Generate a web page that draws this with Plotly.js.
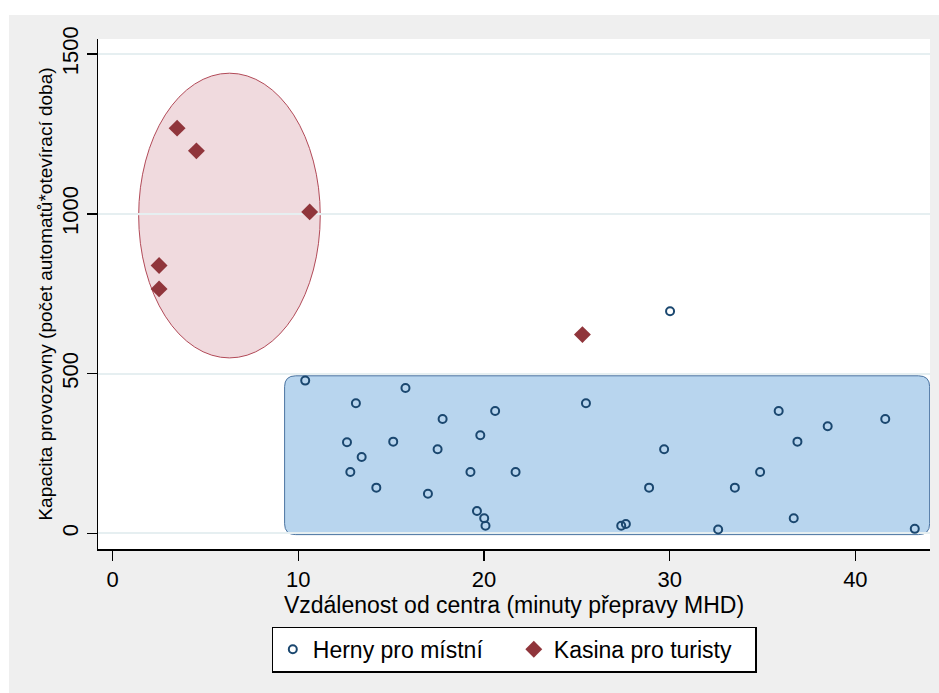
<!DOCTYPE html>
<html>
<head>
<meta charset="utf-8">
<script src="https://cdn.plot.ly/plotly-3.0.1.min.js"></script>
<style>
  html, body { margin: 0; padding: 0; background: #ffffff; }
  #chart { position: absolute; left: 9px; top: 15px; width: 930px; height: 678px; }
</style>
</head>
<body>
<div id="chart"></div>
<script>
// Herny pro místní (local gaming halls)
const hernyX = [10.37, 15.77, 13.10, 17.77, 20.60, 19.80, 12.62, 15.11, 17.50, 13.41,
                12.80, 19.27, 21.70, 14.20, 16.98, 19.62, 20.01, 20.08,
                25.49, 35.87, 41.61, 38.51, 36.88, 29.70, 34.87, 28.89, 33.51,
                36.68, 27.39, 27.64, 32.61, 43.20, 30.02];
const hernyY = [478, 455, 407, 358, 383, 307, 285, 287, 263, 239,
                192, 192, 192, 143, 124, 70, 47, 24,
                407, 383, 358, 335, 287, 263, 192, 143, 143,
                47, 24, 29, 12, 14, 695];

// Kasina pro turisty (casinos for tourists)
const kasinaX = [3.47, 4.51, 10.61, 2.50, 2.50, 25.30];
const kasinaY = [1268, 1197, 1006, 838, 765, 622];

const seriesNames = ["Herny pro místní", "Kasina pro turisty"];
const xTitle = "Vzdálenost od centra (minuty přepravy MHD)";
const yTitle = "Kapacita provozovny (počet automatů*otevírací doba)";
const xTicks = [0, 10, 20, 30, 40];
const yTicks = [0, 500, 1000, 1500];

// highlight regions (in data units)
const touristZone = { x0: 1.40, x1: 11.18, y0: 549, y1: 1440 };
const localZone = { x0: 9.26, x1: 44.0, y0: -4, y1: 493, rx: 0.6, ry: 34 };

const font = "Arial, 'Liberation Sans', sans-serif";

function roundedRectPath(z) {
  const { x0, x1, y0, y1, rx, ry } = z;
  return `M ${x0 + rx},${y0} L ${x1 - rx},${y0} Q ${x1},${y0} ${x1},${y0 + ry} ` +
         `L ${x1},${y1 - ry} Q ${x1},${y1} ${x1 - rx},${y1} ` +
         `L ${x0 + rx},${y1} Q ${x0},${y1} ${x0},${y1 - ry} ` +
         `L ${x0},${y0 + ry} Q ${x0},${y0} ${x0 + rx},${y0} Z`;
}

const traces = [
  {
    type: "scatter", mode: "markers", name: seriesNames[0],
    x: hernyX, y: hernyY,
    marker: { symbol: "circle-open", size: 8, color: "#1a476f", line: { width: 2, color: "#1a476f" } },
    cliponaxis: false
  },
  {
    type: "scatter", mode: "markers", name: seriesNames[1],
    x: kasinaX, y: kasinaY,
    marker: { symbol: "diamond", size: 13, color: "#90353b", line: { width: 0 } },
    cliponaxis: false
  }
];

const layout = {
  width: 930, height: 678,
  paper_bgcolor: "#efefef",
  plot_bgcolor: "#ffffff",
  margin: { l: 89, r: 9, t: 24, b: 144 },
  font: { family: font, color: "#000000" },
  showlegend: true,
  legend: {
    orientation: "h", x: 0.5, xanchor: "center", y: -0.152, yanchor: "top",
    bgcolor: "#ffffff", bordercolor: "#000000", borderwidth: 1.3,
    font: { size: 23, family: font, color: "#000000" },
    traceorder: "normal",
    entrywidth: 196, entrywidthmode: "pixels"
  },
  xaxis: {
    range: [-0.79, 44.02],
    tickvals: xTicks, ticktext: xTicks.map(String),
    ticks: "outside", ticklen: 10, tickwidth: 1.5, tickcolor: "#000000",
    showline: true, linecolor: "#000000", linewidth: 1.5,
    showgrid: false, zeroline: false,
    tickfont: { size: 22, family: font },
    title: { text: xTitle, font: { size: 23, family: font }, standoff: 3 }
  },
  yaxis: {
    range: [-49, 1547],
    tickvals: yTicks, ticktext: yTicks.map(String),
    tickangle: -90,
    ticks: "outside", ticklen: 10, tickwidth: 1.5, tickcolor: "#000000",
    showline: true, linecolor: "#000000", linewidth: 1.5,
    showgrid: true, gridcolor: "#e6eff1", gridwidth: 2,
    zeroline: false,
    tickfont: { size: 22, family: font },
    title: { text: yTitle, font: { size: 19, family: font }, standoff: 0 }
  },
  shapes: [
    {
      type: "circle", xref: "x", yref: "y", layer: "below",
      x0: touristZone.x0, x1: touristZone.x1, y0: touristZone.y0, y1: touristZone.y1,
      fillcolor: "#f0dade", line: { color: "#b24a58", width: 1 }
    },
    {
      type: "path", xref: "x", yref: "y", layer: "below",
      path: roundedRectPath(localZone),
      fillcolor: "#b8d5ee", line: { color: "#4a73a0", width: 1 }
    }
  ]
};

Plotly.newPlot("chart", traces, layout, { displayModeBar: false, staticPlot: true });
</script>
</body>
</html>
